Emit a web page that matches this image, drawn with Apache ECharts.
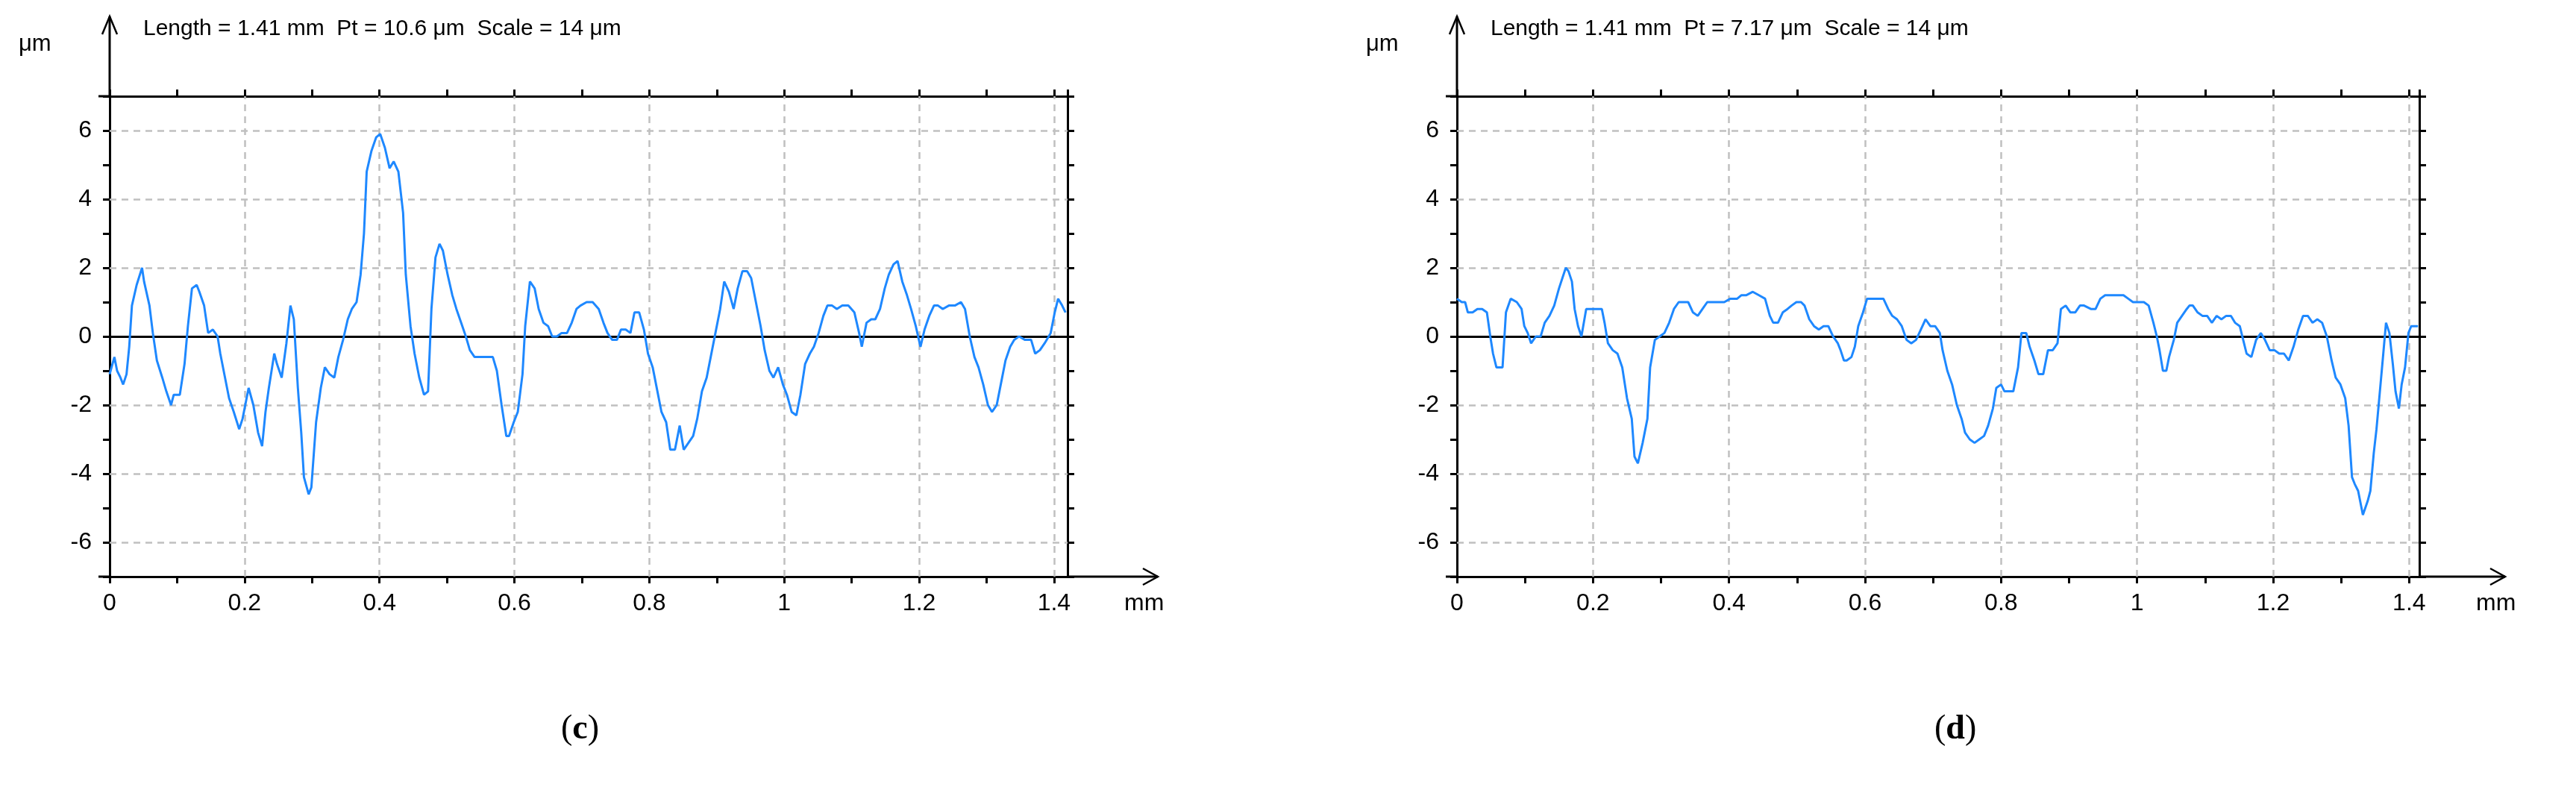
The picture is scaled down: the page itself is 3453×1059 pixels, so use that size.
<!DOCTYPE html>
<html><head><meta charset="utf-8">
<script src="https://cdn.jsdelivr.net/npm/echarts@6/dist/echarts.min.js"></script>
<style>html,body{margin:0;background:#fff}#chart{width:3453px;height:1059px}</style>
</head><body><div id="chart"></div>
<script>
// profile (c): position in mm, height in um
var xC = [0,.007,.011,.016,.020,.025,.029,.033,.040,.048,.051,.059,.064,.070,.078,.084,.091,.095,.104,.111,.116,.122,.129,.133,.140,.146,.153,.160,.164,.171,.177,.184,.192,.197,.206,.213,.220,.226,.231,.236,.244,.248,.255,.262,.268,.273,.279,.284,.288,.295,.299,.306,.313,.319,.326,.333,.339,.346,.353,.359,.366,.372,.377,.381,.388,.395,.401,.408,.415,.421,.428,.435,.439,.446,.452,.459,.466,.472,.477,.483,.489,.494,.501,.508,.514,.521,.528,.534,.541,.550,.559,.568,.574,.581,.588,.592,.599,.605,.612,.616,.623,.630,.636,.643,.650,.656,.663,.670,.678,.685,.692,.698,.707,.716,.725,.732,.738,.745,.752,.758,.765,.772,.778,.785,.792,.798,.805,.812,.818,.825,.831,.838,.845,.851,.858,.865,.871,.878,.885,.891,.898,.905,.911,.918,.925,.931,.938,.945,.951,.958,.965,.971,.978,.984,.991,.998,1.004,1.011,1.018,1.024,1.031,1.038,1.044,1.051,1.058,1.064,1.071,1.078,1.086,1.095,1.104,1.111,1.115,1.122,1.129,1.135,1.142,1.149,1.155,1.162,1.168,1.175,1.182,1.188,1.195,1.202,1.208,1.215,1.222,1.228,1.235,1.244,1.253,1.262,1.268,1.275,1.282,1.288,1.295,1.302,1.308,1.315,1.321,1.328,1.335,1.341,1.348,1.357,1.366,1.372,1.379,1.386,1.395,1.401,1.406,1.412,1.417];
var yC = [-1.1,-0.6,-1.0,-1.2,-1.4,-1.1,-0.3,0.9,1.5,2.0,1.6,0.9,0.1,-0.7,-1.2,-1.6,-2.0,-1.7,-1.7,-0.8,0.3,1.4,1.5,1.3,0.9,0.1,0.2,0,-0.5,-1.2,-1.8,-2.2,-2.7,-2.4,-1.5,-2.0,-2.8,-3.2,-2.2,-1.5,-0.5,-0.8,-1.2,-0.2,0.9,0.5,-1.5,-2.8,-4.1,-4.6,-4.4,-2.5,-1.5,-0.9,-1.1,-1.2,-0.6,-0.1,0.5,0.8,1.0,1.8,3.0,4.8,5.4,5.8,5.9,5.5,4.9,5.1,4.8,3.6,1.8,0.3,-0.5,-1.2,-1.7,-1.6,0.8,2.3,2.7,2.5,1.8,1.2,0.8,0.4,0,-0.4,-0.6,-0.6,-0.6,-0.6,-1.0,-2.0,-2.9,-2.9,-2.5,-2.2,-1.1,0.3,1.6,1.4,0.8,0.4,0.3,0,0,0.1,0.1,0.4,0.8,0.9,1.0,1.0,0.8,0.4,0.1,-0.1,-0.1,0.2,0.2,0.1,0.7,0.7,0.2,-0.5,-0.9,-1.6,-2.2,-2.5,-3.3,-3.3,-2.6,-3.3,-3.1,-2.9,-2.4,-1.6,-1.2,-0.6,0.1,0.8,1.6,1.3,0.8,1.4,1.9,1.9,1.7,1.0,0.3,-0.4,-1.0,-1.2,-0.9,-1.4,-1.7,-2.2,-2.3,-1.7,-0.8,-0.5,-0.3,0.1,0.6,0.9,0.9,0.8,0.9,0.9,0.7,0.1,-0.3,0.4,0.5,0.5,0.8,1.4,1.8,2.1,2.2,1.6,1.2,0.8,0.3,-0.3,0.2,0.6,0.9,0.9,0.8,0.9,0.9,1.0,0.8,0.0,-0.6,-0.9,-1.4,-2.0,-2.2,-2.0,-1.4,-0.7,-0.3,-0.1,0.0,-0.1,-0.1,-0.5,-0.4,-0.2,0.1,0.7,1.1,0.9,0.7];
// profile (d)
var xD = [0,.007,.012,.016,.023,.030,.037,.044,.049,.053,.058,.067,.072,.079,.088,.095,.099,.104,.109,.116,.123,.129,.136,.143,.150,.155,.160,.164,.169,.173,.178,.183,.190,.194,.203,.213,.217,.222,.229,.236,.243,.250,.257,.261,.266,.273,.280,.284,.291,.298,.305,.312,.319,.326,.333,.340,.347,.354,.361,.368,.375,.384,.393,.402,.412,.418,.425,.435,.444,.453,.460,.465,.472,.479,.486,.492,.499,.506,.511,.518,.525,.532,.539,.546,.553,.560,.564,.569,.573,.580,.585,.590,.597,.603,.610,.620,.627,.634,.640,.647,.654,.661,.668,.675,.682,.689,.696,.703,.710,.714,.721,.728,.735,.742,.747,.754,.761,.768,.775,.781,.788,.793,.800,.805,.812,.818,.825,.830,.837,.842,.849,.855,.862,.869,.876,.883,.888,.895,.902,.909,.916,.922,.932,.939,.946,.953,.962,.971,.980,.987,.994,1.001,1.010,1.017,1.024,1.029,1.033,1.038,1.043,1.047,1.054,1.059,1.066,1.073,1.077,1.082,1.089,1.096,1.103,1.110,1.117,1.124,1.131,1.138,1.144,1.151,1.156,1.161,1.168,1.175,1.182,1.188,1.195,1.202,1.209,1.216,1.223,1.230,1.237,1.244,1.251,1.258,1.265,1.272,1.279,1.286,1.292,1.299,1.306,1.311,1.316,1.320,1.325,1.332,1.339,1.343,1.348,1.352,1.357,1.362,1.366,1.371,1.376,1.380,1.385,1.389,1.394,1.399,1.403,1.413];
var yD = [1.1,1.0,1.0,0.7,0.7,0.8,0.8,0.7,0,-0.5,-0.9,-0.9,0.7,1.1,1.0,0.8,0.3,0.1,-0.2,0,0,0.4,0.6,0.9,1.4,1.7,2.0,1.9,1.6,0.8,0.3,0,0.8,0.8,0.8,0.8,0.4,-0.2,-0.4,-0.5,-0.9,-1.8,-2.4,-3.5,-3.7,-3.1,-2.4,-0.9,-0.1,0,0.1,0.4,0.8,1.0,1.0,1.0,0.7,0.6,0.8,1.0,1.0,1.0,1.0,1.1,1.1,1.2,1.2,1.3,1.2,1.1,0.6,0.4,0.4,0.7,0.8,0.9,1.0,1.0,0.9,0.5,0.3,0.2,0.3,0.3,0,-0.2,-0.4,-0.7,-0.7,-0.6,-0.3,0.3,0.7,1.1,1.1,1.1,1.1,0.8,0.6,0.5,0.3,-0.1,-0.2,-0.1,0.2,0.5,0.3,0.3,0.1,-0.4,-1.0,-1.4,-2.0,-2.4,-2.8,-3.0,-3.1,-3.0,-2.9,-2.6,-2.1,-1.5,-1.4,-1.6,-1.6,-1.6,-0.9,0.1,0.1,-0.3,-0.7,-1.1,-1.1,-0.4,-0.4,-0.2,0.8,0.9,0.7,0.7,0.9,0.9,0.8,0.8,1.1,1.2,1.2,1.2,1.2,1.1,1.0,1.0,1.0,0.9,0.4,0,-0.4,-1.0,-1.0,-0.6,-0.1,0.4,0.6,0.8,0.9,0.9,0.7,0.6,0.6,0.4,0.6,0.5,0.6,0.6,0.4,0.3,-0.1,-0.5,-0.6,-0.1,0.1,-0.1,-0.4,-0.4,-0.5,-0.5,-0.7,-0.3,0.2,0.6,0.6,0.4,0.5,0.4,0,-0.7,-1.2,-1.4,-1.8,-2.6,-4.1,-4.3,-4.5,-5.2,-4.8,-4.5,-3.4,-2.7,-1.6,-0.5,0.4,0.1,-0.8,-1.6,-2.1,-1.4,-0.9,0.1,0.3,0.3];
var xGrid = [0.2,0.4,0.6,0.8,1.0,1.2,1.4];
var yGrid = [-6,-4,-2,2,4,6];
var titles = ['Length = 1.41 mm  Pt = 10.6 μm  Scale = 14 μm', 'Length = 1.41 mm  Pt = 7.17 μm  Scale = 14 μm'];
var panels = ['c','d'];

var font = 'Liberation Sans';
var grids = [{left:147, top:129, width:1284, height:644}, {left:1953, top:129, width:1290, height:644}];
var xMax = [1.42, 1.415];

function pair(xs, ys){
  var out = [];
  for (var i = 0; i < Math.min(xs.length, ys.length); i++) out.push([xs[i], ys[i]]);
  return out;
}
var axisLine = {onZero:false, lineStyle:{color:'#000', width:3}};
var tick = {show:true, inside:false, length:9, lineStyle:{color:'#000', width:3}};

var option = {backgroundColor:'#fff', animation:false, grid:[], xAxis:[], yAxis:[], series:[], graphic:[]};
[0,1].forEach(function(i){
  var g = grids[i];
  option.grid.push({left:g.left, top:g.top, width:g.width, height:g.height});
  option.xAxis.push({gridIndex:i, type:'value', min:0, max:xMax[i], interval:0.1, position:'bottom',
    axisLine:axisLine, axisTick:tick, splitLine:{show:false},
    axisLabel:{margin:20, fontFamily:font, fontSize:32, color:'#000', formatter:function(v){
      var r = Math.round(v*10); return r % 2 ? '' : String(r/10);}},
    name:'mm', nameLocation:'end', nameGap:76,
    nameTextStyle:{fontFamily:font, fontSize:32, color:'#000', verticalAlign:'top', padding:[20,0,0,0]}});
  option.xAxis.push({gridIndex:i, type:'value', min:0, max:xMax[i], interval:0.1, position:'top',
    axisLine:axisLine, axisTick:tick, axisLabel:{show:false}, splitLine:{show:false}});
  option.yAxis.push({gridIndex:i, type:'value', min:-7, max:7, interval:1, position:'left',
    axisLine:axisLine, axisTick:tick, splitLine:{show:false},
    axisLabel:{margin:24, fontFamily:font, fontSize:32, color:'#000', formatter:function(v){
      return Math.round(v) % 2 ? '' : String(v);}}});
  option.yAxis.push({gridIndex:i, type:'value', min:-7, max:7, interval:1, position:'right',
    axisLine:axisLine, axisTick:tick, axisLabel:{show:false}, splitLine:{show:false}});
  var lines = [];
  xGrid.forEach(function(v){ lines.push({xAxis:v}); });
  yGrid.forEach(function(v){ lines.push({yAxis:v}); });
  option.series.push({type:'line', xAxisIndex:2*i, yAxisIndex:2*i, data:[], silent:true,
    markLine:{silent:true, symbol:'none', label:{show:false}, animation:false,
      lineStyle:{color:'#c0c0c0', type:[9,7], width:2.5}, data:lines}});
  option.series.push({type:'line', xAxisIndex:2*i, yAxisIndex:2*i, data:[], silent:true,
    markLine:{silent:true, symbol:'none', label:{show:false}, animation:false,
      lineStyle:{color:'#000', type:'solid', width:3}, data:[{yAxis:0}]}});
  option.series.push({type:'line', xAxisIndex:2*i, yAxisIndex:2*i, showSymbol:false, z:5,
    data: i === 0 ? pair(xC, yC) : pair(xD, yD),
    lineStyle:{color:'#1E88FF', width:3}});
  // axis arrows and captions
  var L = g.left, T = g.top, B = g.top + g.height, R = g.left + g.width;
  option.graphic.push(
    {type:'line', shape:{x1:L, y1:T, x2:L, y2:22}, style:{stroke:'#000', lineWidth:3}},
    {type:'polyline', shape:{points:[[L-10,46],[L,22],[L+10,46]]}, style:{stroke:'#000', lineWidth:2.5, fill:null}},
    {type:'line', shape:{x1:R, y1:B, x2:L+1405, y2:B}, style:{stroke:'#000', lineWidth:3}},
    {type:'polyline', shape:{points:[[L+1385,762],[L+1405,B],[L+1385,784]]}, style:{stroke:'#000', lineWidth:2.5, fill:null}},
    {type:'line', shape:{x1:L-15, y1:B, x2:L, y2:B}, style:{stroke:'#000', lineWidth:3}},
    {type:'line', shape:{x1:L-15, y1:T, x2:L, y2:T}, style:{stroke:'#000', lineWidth:3}},
    {type:'text', left:L-122, top:44, style:{text:'μm', font:'31px "Liberation Sans"', fill:'#000'}},
    {type:'text', left:L+45, top:24, style:{text:titles[i], font:'30px "Liberation Sans"', fill:'#000'}},
    {type:'text', left:L+(i === 0 ? 605 : 640), top:955, style:{
      text:'(' + '{b|' + panels[i] + '})', font:'46px "Liberation Serif"', fill:'#000',
      rich:{b:{fontFamily:'Liberation Serif', fontSize:46, fontWeight:'bold', fill:'#000'}}}}
  );
});
echarts.init(document.getElementById('chart')).setOption(option);
</script>
</body></html>
